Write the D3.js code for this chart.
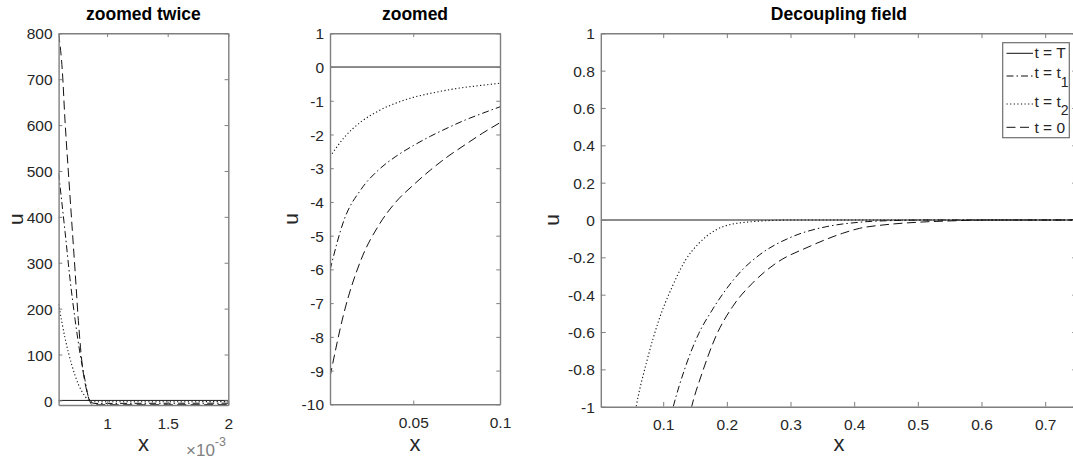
<!DOCTYPE html>
<html><head><meta charset="utf-8">
<script src="https://cdn.jsdelivr.net/npm/d3@7"></script>
<style>body{margin:0;background:#fff;} svg{display:block;font-family:"Liberation Sans",Arial,Helvetica,sans-serif;}</style>
</head><body><svg id="c" width="1073" height="461"></svg>
<script>
// ---------- DATA ----------
// Panel 1 "zoomed twice" (x in units of 1e-3)
const p1XTicks = [1, 1.5, 2];
const p1XTickLabels = ["1", "1.5", "2"];
const p1YTicks = [0, 100, 200, 300, 400, 500, 600, 700, 800];
const p1YTickLabels = ["0", "100", "200", "300", "400", "500", "600", "700", "800"];
const p1_T_x  = [0.6, 2.0];
const p1_T_u  = [0, 0];
const p1_t1_x = [0.6, 0.653, 0.694, 0.736, 0.777, 0.818, 0.845, 0.868, 0.9, 1.2, 1.6, 2.0];
const p1_t1_u = [495, 368, 265, 176, 102, 44, 8, -4, -6.6, -6.4, -6.2, -6.1];
const p1_t2_x = [0.6, 0.653, 0.708, 0.763, 0.818, 0.845, 0.87, 0.9, 1.2, 1.6, 2.0];
const p1_t2_u = [210, 136, 78, 35, 9, 0, -2.8, -3.0, -2.9, -2.8, -2.7];
const p1_t0_x = [0.6, 0.631, 0.653, 0.680, 0.708, 0.736, 0.763, 0.791, 0.832, 0.859, 0.88, 0.95, 1.3, 1.7, 2.0];
const p1_t0_u = [800, 717, 609, 500, 391, 282, 174, 87, 21, -3, -9.6, -9.5, -9.4, -9.3, -9.2];

// Panel 2 "zoomed"
const p2XTicks = [0.05, 0.1];
const p2XTickLabels = ["0.05", "0.1"];
const p2YTicks = [1, 0, -1, -2, -3, -4, -5, -6, -7, -8, -9, -10];
const p2YTickLabels = ["1", "0", "-1", "-2", "-3", "-4", "-5", "-6", "-7", "-8", "-9", "-10"];
const p2_T_x  = [0.002, 0.1];
const p2_T_u  = [0, 0];
const p2_x    = [0.002, 0.01, 0.02, 0.03, 0.04, 0.05, 0.06, 0.07, 0.08, 0.09, 0.1];
const p2_t1_u = [-6.02, -4.55, -3.62, -3.05, -2.65, -2.33, -2.05, -1.80, -1.57, -1.37, -1.18];
const p2_t2_u = [-2.66, -2.10, -1.62, -1.30, -1.07, -0.90, -0.78, -0.68, -0.60, -0.54, -0.48];
const p2_t0_u = [-9.19, -7.30, -5.70, -4.70, -4.00, -3.50, -3.05, -2.65, -2.30, -1.96, -1.65];

// Panel 3 "Decoupling field"
const p3XTicks = [0.1, 0.2, 0.3, 0.4, 0.5, 0.6, 0.7];
const p3XTickLabels = ["0.1", "0.2", "0.3", "0.4", "0.5", "0.6", "0.7"];
const p3YTicks = [1, 0.8, 0.6, 0.4, 0.2, 0, -0.2, -0.4, -0.6, -0.8, -1];
const p3YTickLabels = ["1", "0.8", "0.6", "0.4", "0.2", "0", "-0.2", "-0.4", "-0.6", "-0.8", "-1"];
const p3_T_x  = [0.002, 0.75];
const p3_T_u  = [0, 0];
const p3_t1_x = [0.105, 0.1158, 0.135, 0.156, 0.177, 0.198, 0.224, 0.251, 0.303, 0.356, 0.408, 0.46, 0.52, 0.75];
const p3_t1_u = [-1.15, -1.0, -0.786, -0.607, -0.482, -0.375, -0.268, -0.1875, -0.089, -0.036, -0.012, -0.003, 0, 0];
const p3_t2_x = [0.05, 0.0575, 0.0748, 0.0932, 0.1142, 0.1352, 0.156, 0.1825, 0.224, 0.303, 0.75];
const p3_t2_u = [-1.15, -1.0, -0.75, -0.536, -0.357, -0.214, -0.125, -0.054, -0.014, 0, 0];
const p3_t0_x = [0.135, 0.1447, 0.161, 0.1825, 0.209, 0.240, 0.277, 0.329, 0.382, 0.408, 0.45, 0.5, 0.55, 0.61, 0.75];
const p3_t0_u = [-1.15, -1.0, -0.821, -0.625, -0.464, -0.339, -0.232, -0.143, -0.071, -0.045, -0.025, -0.012, -0.005, 0, 0];

const legendLabels = [["t = T", ""], ["t = t", "1"], ["t = t", "2"], ["t = 0", ""]];

// ---------- STYLE ----------
const styles = {
  T:  {dash: null},
  t1: {dash: "7,3,1.5,3"},
  t2: {dash: "1.2,2.4"},
  t0: {dash: "9,4.5"}
};
const axisColor = "#7f7f7f";
const textColor = "#262626";

const svg = d3.select("#c");

function mk(xs, us) { return xs.map((x, i) => ({x: x, u: us[i]})); }

const panels = [
  {id: "p1", title: "zoomed twice", x0: 58.6, x1: 228.3, y0: 33.3, y1: 405, xd: [0.6, 2], yd: [-10, 800],
   xt: p1XTicks, xtl: p1XTickLabels, yt: p1YTicks, ytl: p1YTickLabels, ux: 17,
   series: [["T", mk(p1_T_x, p1_T_u)], ["t2", mk(p1_t2_x, p1_t2_u)], ["t1", mk(p1_t1_x, p1_t1_u)], ["t0", mk(p1_t0_x, p1_t0_u)]]},
  {id: "p2", title: "zoomed", x0: 330, x1: 500, y0: 33.3, y1: 404.3, xd: [0.002, 0.1], yd: [-10, 1],
   xt: p2XTicks, xtl: p2XTickLabels, yt: p2YTicks, ytl: p2YTickLabels, ux: 292,
   series: [["T", mk(p2_T_x, p2_T_u)], ["t2", mk(p2_x, p2_t2_u)], ["t1", mk(p2_x, p2_t1_u)], ["t0", mk(p2_x, p2_t0_u)]]},
  {id: "p3", title: "Decoupling field", x0: 600.8, x1: 1077, y0: 33.3, y1: 406.7, xd: [0.002, 0.75], yd: [-1, 1],
   xt: p3XTicks, xtl: p3XTickLabels, yt: p3YTicks, ytl: p3YTickLabels, ux: 553,
   series: [["T", mk(p3_T_x, p3_T_u)], ["t2", mk(p3_t2_x, p3_t2_u)], ["t1", mk(p3_t1_x, p3_t1_u)], ["t0", mk(p3_t0_x, p3_t0_u)]]}
];

panels.forEach(p => {
  const xs = d3.scaleLinear().domain(p.xd).range([p.x0, p.x1]);
  const ys = d3.scaleLinear().domain(p.yd).range([p.y1, p.y0]);
  const g = svg.append("g");
  const tl = 0.01 * Math.max(p.x1 - p.x0, p.y1 - p.y0);

  g.append("clipPath").attr("id", "clip-" + p.id).append("rect")
    .attr("x", p.x0).attr("y", p.y0).attr("width", p.x1 - p.x0).attr("height", p.y1 - p.y0);

  const line = d3.line().x(d => xs(d.x)).y(d => ys(d.u)).curve(d3.curveMonotoneX);
  const cg = g.append("g").attr("clip-path", "url(#clip-" + p.id + ")");
  p.series.forEach(([k, data]) => {
    cg.append("path").datum(data).attr("d", line)
      .attr("fill", "none").attr("stroke", k === "T" ? "#1a1a1a" : "#111")
      .attr("stroke-width", k === "t2" ? 1.1 : 1)
      .attr("stroke-dasharray", styles[k].dash);
  });

  const fmtX = (d, i) => p.xtl[i];
  const fmtY = (d, i) => p.ytl[i];
  const bottom = g.append("g").attr("transform", `translate(0,${p.y1})`)
    .call(d3.axisBottom(xs).tickValues(p.xt).tickFormat(fmtX).tickSizeInner(-tl).tickSizeOuter(0));
  const top = g.append("g").attr("transform", `translate(0,${p.y0})`)
    .call(d3.axisTop(xs).tickValues(p.xt).tickFormat("").tickSizeInner(-tl).tickSizeOuter(0));
  const left = g.append("g").attr("transform", `translate(${p.x0},0)`)
    .call(d3.axisLeft(ys).tickValues(p.yt).tickFormat(fmtY).tickSizeInner(-tl).tickSizeOuter(0));
  const right = g.append("g").attr("transform", `translate(${p.x1},0)`)
    .call(d3.axisRight(ys).tickValues(p.yt).tickFormat("").tickSizeInner(-tl).tickSizeOuter(0));
  [bottom, top, left, right].forEach(a => {
    a.select(".domain").attr("stroke", axisColor).attr("stroke-width", 1.4);
    a.selectAll(".tick line").attr("stroke", axisColor).attr("stroke-width", 1);
    a.selectAll(".tick text").attr("fill", textColor).style("font-size", "15.5px")
      .style("font-family", '"Liberation Sans", Arial, sans-serif');
  });
  bottom.selectAll(".tick text").attr("dy", null).attr("y", 23.5);
  left.selectAll(".tick text").attr("dy", "0.36em").attr("x", -6);

  g.append("text").attr("x", (p.x0 + Math.min(p.x1, 1077)) / 2).attr("y", 20)
    .attr("text-anchor", "middle").style("font-weight", "bold").style("font-size", "17.5px")
    .attr("fill", "#000").text(p.title);
  g.append("text").attr("x", (p.x0 + p.x1) / 2).attr("y", 451)
    .attr("text-anchor", "middle").style("font-size", "22px").attr("fill", textColor).text("x");
  g.append("text").attr("transform", `translate(${p.ux + 6},${(p.y0 + p.y1) / 2}) rotate(-90)`)
    .attr("text-anchor", "middle").style("font-size", "21px").attr("fill", textColor).text("u");
});

// x10^-3 multiplier for panel 1
const mult = svg.append("text").attr("x", 186).attr("y", 455.5).attr("fill", "#808080").style("font-size", "17px");
mult.append("tspan").text("\u00d710");
mult.append("tspan").attr("dy", -10).style("font-size", "12.5px").text("-3");

// legend
const lg = svg.append("g");
lg.append("rect").attr("x", 1002.7).attr("y", 42.7).attr("width", 66.6).attr("height", 95)
  .attr("fill", "#fff").attr("stroke", "#6e6e6e").attr("stroke-width", 1.2);
const legKeys = ["T", "t1", "t2", "t0"];
const legLineY = [53.3, 76, 104, 127.3];
const legTextY = [58, 78, 106.7, 133];
legKeys.forEach((k, i) => {
  lg.append("line").attr("x1", 1006.5).attr("x2", 1033).attr("y1", legLineY[i]).attr("y2", legLineY[i])
    .attr("stroke", "#111").attr("stroke-width", 1).attr("stroke-dasharray", styles[k].dash);
  const t = lg.append("text").attr("x", 1034.5).attr("y", legTextY[i]).attr("fill", textColor).style("font-size", "15.5px");
  t.append("tspan").text(legendLabels[i][0]);
  if (legendLabels[i][1]) t.append("tspan").attr("dy", 8.5).style("font-size", "14px").text(legendLabels[i][1]);
});
</script></body></html>
